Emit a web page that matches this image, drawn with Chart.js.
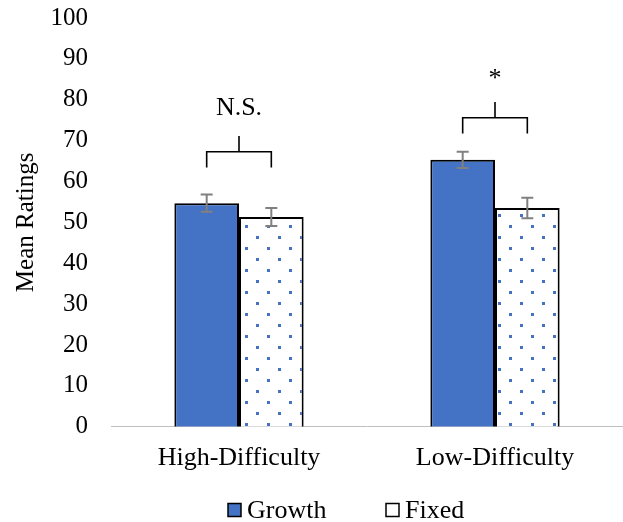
<!DOCTYPE html>
<html lang="en">
<head>
    <meta charset="UTF-8">
    <title>Mean Ratings</title>
    <style>
        html, body { margin: 0; padding: 0; background: #ffffff; }
        #wrap { width: 623px; height: 522px; }
    </style>
    <script src="https://cdn.jsdelivr.net/npm/chart.js"></script>
</head>
<body>
    <div id="wrap"><canvas id="ratingsChart" width="623" height="522"></canvas></div>

    <script>
        // data
        const categories = ['High-Difficulty', 'Low-Difficulty'];
        const seriesNames = ['Growth', 'Fixed'];
        const growthMeans = [54.7, 65.3];
        const fixedMeans = [51.3, 53.5];
        const growthErr = [2.1, 2.0];
        const fixedErr = [2.2, 2.5];
        const yTicks = [0, 10, 20, 30, 40, 50, 60, 70, 80, 90, 100];
        // significance brackets (in rating units)
        const sigLabels = ['N.S.', '*'];
        const sigLevels = [67.3, 75.6];
        const sigLabelBaselines = [76.2, 83.4];

        const blue = '#4472C4';
        const serif = "'Liberation Serif', 'Times New Roman', serif";

        // dotted fill for the Fixed bars
        function dotPattern() {
            const c = document.createElement('canvas');
            c.width = 22; c.height = 22;
            const g = c.getContext('2d');
            g.fillStyle = '#ffffff';
            g.fillRect(0, 0, 22, 22);
            g.fillStyle = blue;
            g.fillRect(3, 5, 3, 3);
            g.fillRect(14, 16, 3, 3);
            return g.createPattern(c, 'repeat');
        }

        const errorBars = {
            id: 'errorBars',
            afterDatasetsDraw(chart) {
                const ctx = chart.ctx;
                const y = chart.scales.y;
                const errs = [growthErr, fixedErr];
                ctx.save();
                ctx.strokeStyle = '#808080';
                ctx.lineWidth = 2;
                chart.data.datasets.forEach((ds, di) => {
                    chart.getDatasetMeta(di).data.forEach((bar, i) => {
                        const v = ds.data[i];
                        const top = y.getPixelForValue(v + errs[di][i]);
                        const bot = y.getPixelForValue(v - errs[di][i]);
                        ctx.beginPath();
                        ctx.moveTo(bar.x, top); ctx.lineTo(bar.x, bot);
                        ctx.moveTo(bar.x - 6, top); ctx.lineTo(bar.x + 6, top);
                        ctx.moveTo(bar.x - 6, bot); ctx.lineTo(bar.x + 6, bot);
                        ctx.stroke();
                    });
                });
                ctx.restore();
            }
        };

        const brackets = {
            id: 'brackets',
            afterDatasetsDraw(chart) {
                const ctx = chart.ctx;
                const y = chart.scales.y;
                const g = chart.getDatasetMeta(0).data;
                const f = chart.getDatasetMeta(1).data;
                ctx.save();
                ctx.strokeStyle = '#000000';
                ctx.lineWidth = 1.6;
                ctx.fillStyle = '#000000';
                ctx.font = '26px ' + serif;
                ctx.textAlign = 'center';
                ctx.textBaseline = 'alphabetic';
                sigLevels.forEach((lvl, i) => {
                    const x1 = g[i].x, x2 = f[i].x, mid = (x1 + x2) / 2;
                    const yb = y.getPixelForValue(lvl);
                    const yl = y.getPixelForValue(lvl - 3.85);
                    const ys = y.getPixelForValue(lvl + 3.85);
                    ctx.beginPath();
                    ctx.moveTo(x1, yl); ctx.lineTo(x1, yb); ctx.lineTo(x2, yb); ctx.lineTo(x2, yl);
                    ctx.moveTo(mid, yb); ctx.lineTo(mid, ys);
                    ctx.stroke();
                    ctx.fillText(sigLabels[i], mid, y.getPixelForValue(sigLabelBaselines[i]));
                });
                ctx.restore();
            }
        };

        // Excel-style legend under the axis labels
        const bottomLegend = {
            id: 'bottomLegend',
            afterDraw(chart) {
                const ctx = chart.ctx;
                const fills = [blue, '#ffffff'];
                const startX = [228, 386];
                const cy = 510;
                ctx.save();
                ctx.font = '26px ' + serif;
                ctx.textBaseline = 'middle';
                ctx.textAlign = 'left';
                seriesNames.forEach((name, i) => {
                    ctx.fillStyle = fills[i];
                    ctx.fillRect(startX[i], cy - 6.5, 13, 13);
                    ctx.strokeStyle = '#000000';
                    ctx.lineWidth = 1.5;
                    ctx.strokeRect(startX[i], cy - 6.5, 13, 13);
                    ctx.fillStyle = '#000000';
                    ctx.fillText(name, startX[i] + 19, cy + 1);
                });
                ctx.restore();
            }
        };

        new Chart(document.getElementById('ratingsChart'), {
            type: 'bar',
            data: {
                labels: categories,
                datasets: [{
                    label: seriesNames[0],
                    data: growthMeans,
                    backgroundColor: blue,
                    borderColor: '#000000',
                    borderWidth: 2,
                    borderSkipped: 'bottom'
                }, {
                    label: seriesNames[1],
                    data: fixedMeans,
                    backgroundColor: dotPattern(),
                    borderColor: '#000000',
                    borderWidth: 2,
                    borderSkipped: 'bottom'
                }]
            },
            options: {
                responsive: false,
                animation: false,
                layout: { padding: { top: 18, right: 0, left: 2, bottom: 32 } },
                categoryPercentage: 0.505,
                barPercentage: 1,
                scales: {
                    x: {
                        grid: { display: false, drawTicks: false },
                        border: { display: true, color: '#bfbfbf', width: 1 },
                        ticks: { color: '#000000', padding: 16, font: { family: serif, size: 26 } }
                    },
                    y: {
                        min: 0, max: 100,
                        afterBuildTicks: (axis) => { axis.ticks = yTicks.map(v => ({ value: v })); },
                        afterFit: (axis) => {
                            axis.width = 109;
                            axis.paddingTop = 0;
                            axis.paddingBottom = 0;
                        },
                        grid: { display: false, drawTicks: false },
                        border: { display: false },
                        ticks: { color: '#000000', padding: 23, font: { family: serif, size: 25 } },
                        title: { display: true, text: 'Mean Ratings', color: '#000000', padding: 9,
                                 font: { family: serif, size: 25 } }
                    }
                },
                plugins: {
                    tooltip: { enabled: false },
                    legend: { display: false }
                }
            },
            plugins: [errorBars, brackets, bottomLegend]
        });
    </script>
</body>
</html>
